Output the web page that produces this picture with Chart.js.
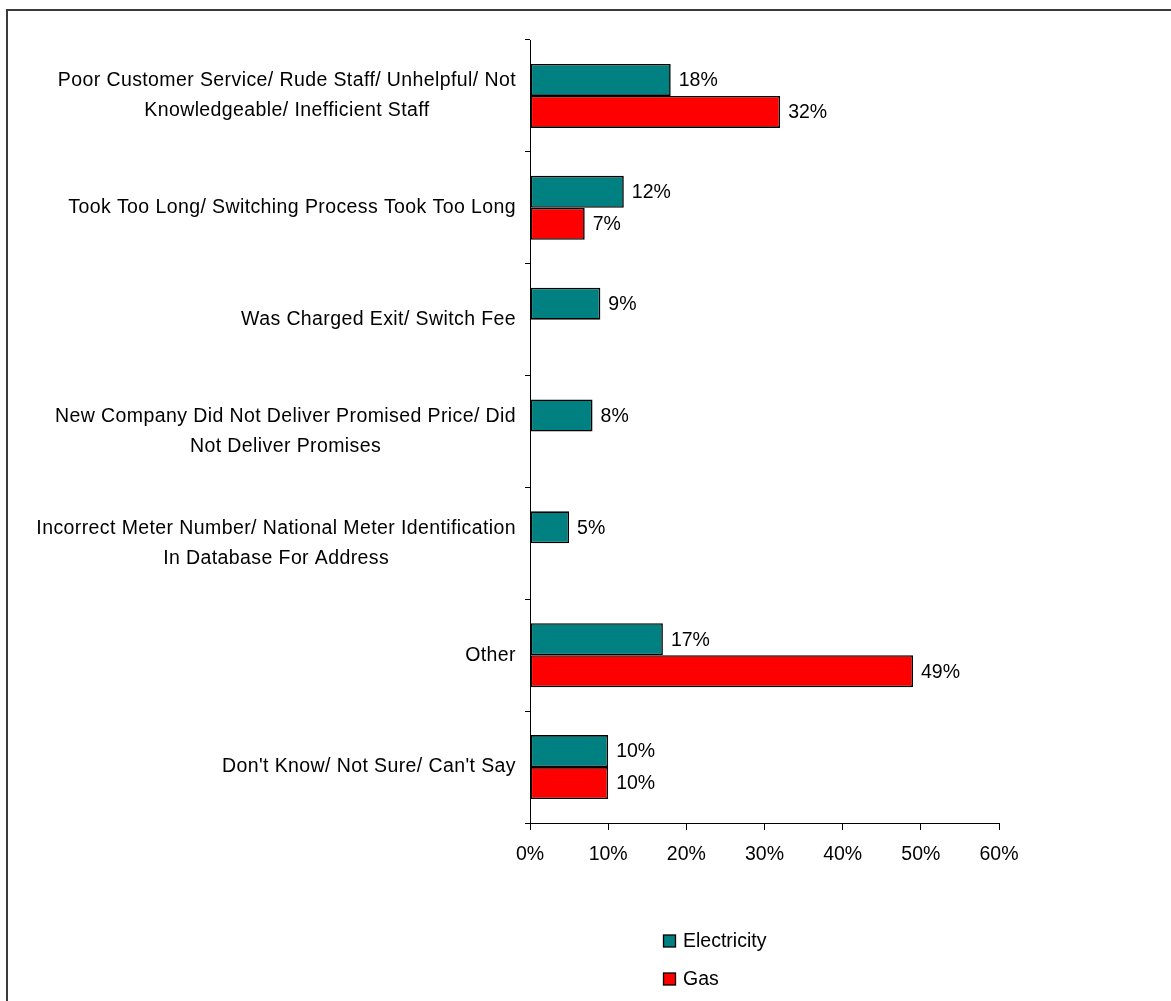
<!DOCTYPE html>
<html>
<head>
<meta charset="utf-8">
<script src="https://cdn.jsdelivr.net/npm/chart.js@4"></script>
<style>
  html, body { margin: 0; padding: 0; background: #fff; overflow: hidden; }
  #wrap { position: relative; width: 1171px; height: 1001px; }
  #frame {
    position: absolute; left: 6px; top: 9px; right: -20px; bottom: -20px;
    border-top: 2px solid #3a3a3a; border-left: 2px solid #3a3a3a;
    pointer-events: none;
  }
  canvas { position: absolute; left: 0; top: 0; }
</style>
</head>
<body>
<div id="wrap">
  <canvas id="chart" width="1171" height="1001"></canvas>
  <div id="frame"></div>
</div>
<script>
// reasons, top to bottom
const categories = [
  ['Poor Customer Service/ Rude Staff/ Unhelpful/ Not', 'Knowledgeable/ Inefficient Staff'],
  'Took Too Long/ Switching Process Took Too Long',
  'Was Charged Exit/ Switch Fee',
  ['New Company Did Not Deliver Promised Price/ Did', 'Not Deliver Promises'],
  ['Incorrect Meter Number/ National Meter Identification', 'In Database For Address'],
  'Other',
  "Don't Know/ Not Sure/ Can't Say"
];
const seriesNames = ['Electricity', 'Gas'];
const seriesColors = ['#008080', '#ff0000'];
const electricity = [18, 12, 9, 8, 5, 17, 10];
const gas = [32, 7, null, null, null, 49, 10];
const xMin = 0, xMax = 60, xStep = 10;

const FONT = '"Liberation Sans", Arial, sans-serif';
const FSIZE = 19.5;
const CAT_SPACING = '0.4px';

// percent labels at the end of each bar
const valueLabels = {
  id: 'valueLabels',
  afterDatasetsDraw(chart) {
    const ctx = chart.ctx;
    ctx.save();
    ctx.font = FSIZE + 'px ' + FONT;
    ctx.fillStyle = '#000';
    ctx.textAlign = 'left';
    ctx.textBaseline = 'middle';
    chart.data.datasets.forEach((ds, i) => {
      chart.getDatasetMeta(i).data.forEach((bar, j) => {
        const v = ds.data[j];
        if (v == null) return;
        ctx.fillText(v + '%', bar.x + 8, bar.y + 1);
      });
    });
    ctx.restore();
  }
};

// two-line category names: lines centred on each other, block kept flush right
const blockLabels = {
  id: 'blockLabels',
  afterLayout(chart) {
    const y = chart.scales.y;
    if (y._blockWrapped) return;
    y._blockWrapped = true;
    const orig = y._computeLabelItems.bind(y);
    y._computeLabelItems = function (area) {
      const items = orig(area);
      const ctx = chart.ctx;
      items.forEach(it => {
        if (!Array.isArray(it.label)) return;
        ctx.save();
        ctx.font = it.font.string;
        ctx.letterSpacing = CAT_SPACING;
        const w = Math.max(...it.label.map(l => ctx.measureText(l).width));
        ctx.restore();
        it.options.textAlign = 'center';
        it.options.translation[0] -= w / 2;
      });
      return items;
    };
    const origDraw = y.drawLabels.bind(y);
    y.drawLabels = function (area) {
      const ctx = chart.ctx;
      const prev = ctx.letterSpacing;
      ctx.letterSpacing = CAT_SPACING;
      origDraw(area);
      ctx.letterSpacing = prev || '0px';
    };
    y._labelItems = null;
  }
};

// stacked legend under the axis
const boxLegend = {
  id: 'boxLegend',
  afterDraw(chart) {
    const ctx = chart.ctx;
    ctx.save();
    ctx.font = FSIZE + 'px ' + FONT;
    ctx.textBaseline = 'middle';
    ctx.textAlign = 'left';
    chart.data.datasets.forEach((ds, i) => {
      const cy = 941 + i * 38;
      ctx.fillStyle = ds.backgroundColor;
      ctx.fillRect(663.5, cy - 6, 12, 12);
      ctx.lineWidth = 1.3;
      ctx.strokeStyle = '#000';
      ctx.strokeRect(663.5, cy - 6, 12, 12);
      ctx.fillStyle = '#000';
      ctx.fillText(ds.label, 683, cy + 1);
    });
    ctx.restore();
  }
};

new Chart(document.getElementById('chart'), {
  type: 'bar',
  data: {
    labels: categories,
    datasets: [
      { label: seriesNames[0], data: electricity, backgroundColor: seriesColors[0] },
      { label: seriesNames[1], data: gas, backgroundColor: seriesColors[1] }
    ]
  },
  options: {
    indexAxis: 'y',
    responsive: false,
    animation: false,
    devicePixelRatio: 1,
    layout: { padding: { top: 40, right: 172, left: 0, bottom: 0 } },
    datasets: {
      bar: {
        categoryPercentage: 0.572,
        barPercentage: 1,
        borderColor: '#000',
        borderWidth: 1.6,
        borderSkipped: false
      }
    },
    plugins: {
      legend: { display: false },
      tooltip: { enabled: false }
    },
    scales: {
      x: {
        min: xMin,
        max: xMax,
        afterFit: s => { s.height = 178; },
        border: { display: true, color: '#000', width: 1 },
        grid: { drawOnChartArea: false, tickLength: 7, color: '#000' },
        ticks: {
          stepSize: xStep,
          padding: 13,
          color: '#000',
          font: { family: FONT, size: FSIZE },
          callback: v => v + '%'
        }
      },
      y: {
        afterFit: s => { s.width = 530; },
        border: { display: true, color: '#000', width: 1 },
        grid: { offset: true, drawOnChartArea: false, tickLength: 5, color: '#000' },
        ticks: {
          crossAlign: 'near',
          padding: 9,
          color: '#000',
          font: { family: FONT, size: FSIZE, lineHeight: 1.54 }
        }
      }
    }
  },
  plugins: [valueLabels, blockLabels, boxLegend]
});
</script>
</body>
</html>
